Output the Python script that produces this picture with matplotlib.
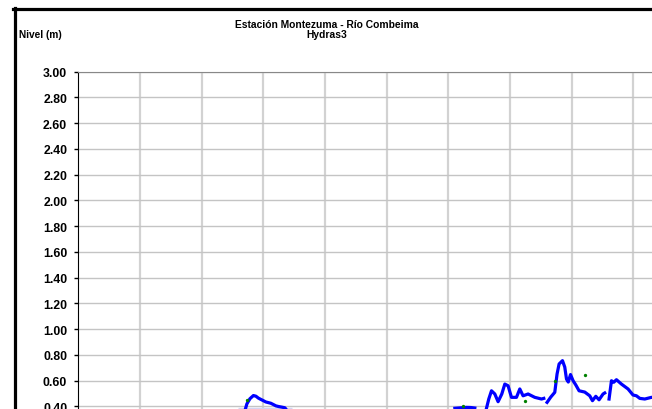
import numpy as np
import matplotlib
matplotlib.use("Agg")
import matplotlib.pyplot as plt
from matplotlib.lines import Line2D

plt.rcParams['font.family'] = ['Liberation Sans', 'DejaVu Sans']

# eje x en dias (una linea de rejilla por dia), nivel en metros
tramo1_x = [2.686, 2.734, 2.783, 2.840, 2.880, 2.921, 2.961, 3.002, 3.042, 3.083,
            3.123, 3.164, 3.204, 3.245, 3.301, 3.350, 3.398]
tramo1_y = [0.34, 0.42, 0.46, 0.485, 0.48, 0.465, 0.455, 0.445, 0.435, 0.43,
            0.425, 0.415, 0.405, 0.40, 0.395, 0.39, 0.36]

tramo2_x = [6.106, 6.187, 6.295, 6.365, 6.430]
tramo2_y = [0.386, 0.389, 0.393, 0.392, 0.388]

tramo3_x = [6.600, 6.656, 6.700, 6.754, 6.807, 6.867, 6.916, 6.969, 7.024, 7.105,
            7.159, 7.212, 7.293, 7.402, 7.511, 7.548]
tramo3_y = [0.35, 0.458, 0.522, 0.497, 0.437, 0.497, 0.574, 0.561, 0.471, 0.471,
            0.536, 0.483, 0.497, 0.471, 0.458, 0.463]

tramo4_x = [7.601, 7.661, 7.726, 7.763, 7.796, 7.851, 7.888, 7.916, 7.945, 7.981,
            8.023, 8.067, 8.120, 8.212, 8.293, 8.337, 8.391, 8.444, 8.509, 8.536]
tramo4_y = [0.432, 0.473, 0.510, 0.652, 0.730, 0.756, 0.706, 0.613, 0.590, 0.648,
            0.600, 0.567, 0.522, 0.512, 0.483, 0.445, 0.479, 0.452, 0.497, 0.505]

tramo5_x = [8.606, 8.645, 8.682, 8.726, 8.807, 8.914, 8.995, 9.050, 9.104, 9.185,
            9.293, 9.347]
tramo5_y = [0.458, 0.600, 0.588, 0.608, 0.574, 0.536, 0.489, 0.483, 0.463, 0.458,
            0.471, 0.47]

puntos_x = [2.735, 6.240, 7.240, 7.726, 8.224]
puntos_y = [0.452, 0.401, 0.445, 0.595, 0.647]

banda_x = [2.588, 3.464]
banda_y = [0.384, 0.384]

yticks = np.arange(0.0, 3.01, 0.2)

fig = plt.figure(figsize=(6.52, 4.10), dpi=100)
ax = fig.add_axes([0.120, -0.1195, 0.946, 0.9422])

ax.plot(banda_x, banda_y, color='#d4d4f2', lw=2.5, solid_capstyle='butt', zorder=2)
for xs, ys in [(tramo1_x, tramo1_y), (tramo2_x, tramo2_y), (tramo3_x, tramo3_y),
               (tramo4_x, tramo4_y), (tramo5_x, tramo5_y)]:
    ax.plot(xs, ys, color='#0000ff', lw=2.3, zorder=3)
ax.plot(puntos_x, puntos_y, 'o', color='#008000', ms=2.4, mew=0, zorder=4)

ax.set_xlim(0, 10)
ax.set_ylim(0, 3.0)
ax.set_yticks(yticks)
ax.set_yticklabels(['%.2f' % v for v in yticks], fontsize=8.8, fontweight='bold')
ax.set_xticks(np.arange(1, 10))
ax.tick_params(axis='x', length=0, labelbottom=False)
ax.tick_params(axis='y', length=3, width=1, pad=5.0, color='black')
ax.grid(axis='y', color='#c4c4c4', lw=1)
ax.grid(axis='x', color='#d2d2d2', lw=1.6)
ax.set_axisbelow(True)
ax.spines['top'].set_color('#888888')
ax.spines['left'].set_color('black')
ax.spines['right'].set_visible(False)
ax.spines['bottom'].set_visible(False)

fig.text(327 / 652, 1 - 25.5 / 410, 'Estación Montezuma - Río Combeima',
         ha='center', va='center', fontsize=7.4, fontweight='bold')
fig.text(327 / 652, 1 - 35.5 / 410, 'Hydras3',
         ha='center', va='center', fontsize=7.4, fontweight='bold')
fig.text(19 / 652, 1 - 34.5 / 410, 'Nivel (m)',
         ha='left', va='center', fontsize=7.3, fontweight='bold')

# marco exterior grueso
fig.add_artist(Line2D([13 / 652, 1], [1 - 9.7 / 410, 1 - 9.7 / 410],
                      color='black', lw=2.3, transform=fig.transFigure))
fig.add_artist(Line2D([14.5 / 652, 14.5 / 652], [0, 1 - 8.5 / 410],
                      color='black', lw=2.3, transform=fig.transFigure))

fig.savefig('out.png', dpi=100)
